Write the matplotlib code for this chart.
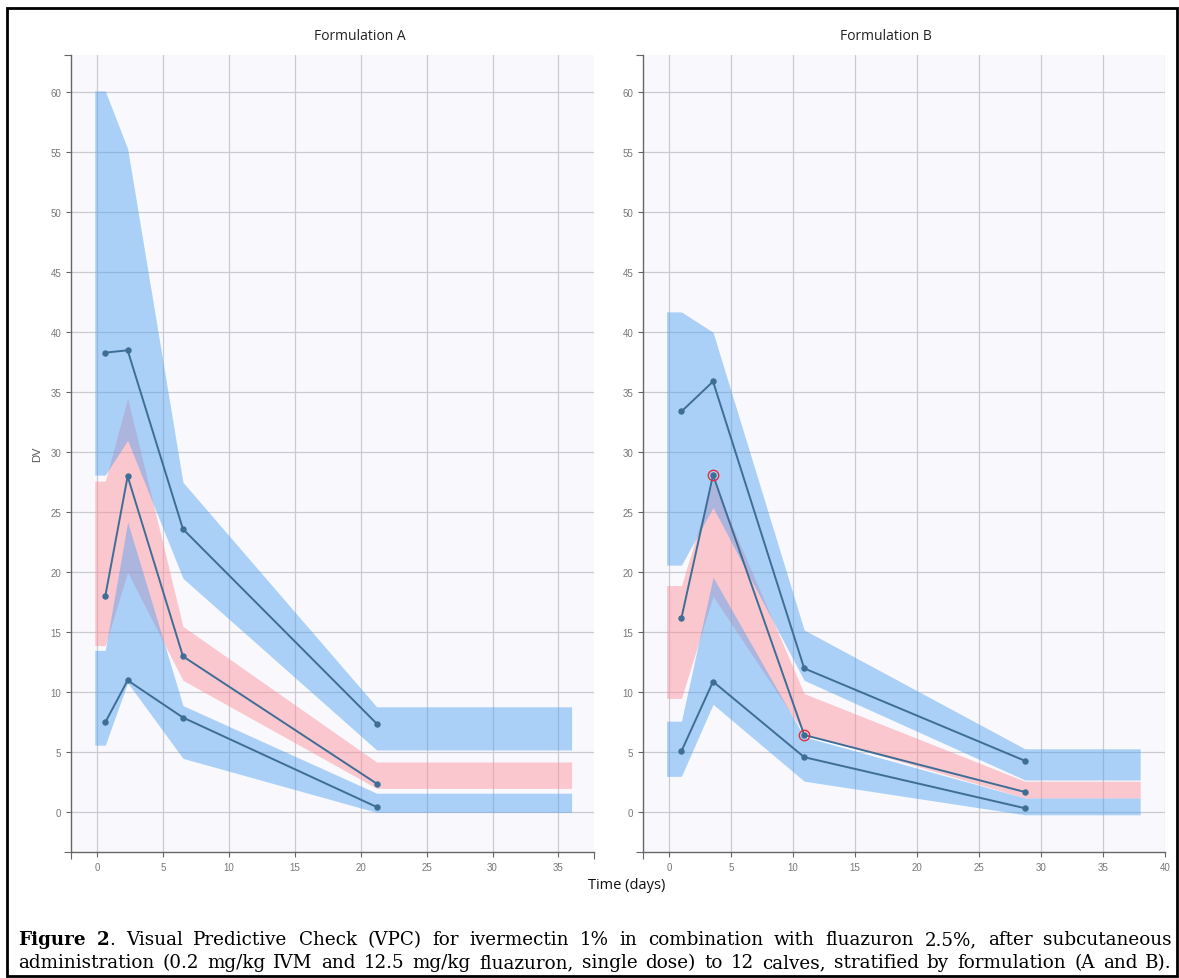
import matplotlib
matplotlib.use('Agg')
import matplotlib.pyplot as plt
from matplotlib.patches import Rectangle

plt.rcParams['font.family'] = ['Liberation Sans', 'DejaVu Sans']

# ---- data ----
# Formulation A
tA = [0.6, 2.3, 6.5, 21.2]
binA = (-0.2, 36.0)
obs_hi_A = [38.3, 38.5, 23.6, 7.4]
obs_med_A = [18.0, 28.0, 13.0, 2.4]
obs_lo_A = [7.5, 11.0, 7.9, 0.45]
hi_ci_A_up = [60.1, 55.3, 27.5, 8.8]
hi_ci_A_lo = [28.1, 31.0, 19.5, 5.2]
med_ci_A_up = [27.6, 34.5, 15.5, 4.2]
med_ci_A_lo = [13.9, 20.0, 11.0, 2.0]
lo_ci_A_up = [13.5, 24.2, 8.9, 1.6]
lo_ci_A_lo = [5.6, 10.8, 4.5, 0.0]

# Formulation B
tB = [1.0, 3.55, 10.9, 28.7]
binB = (-0.2, 38.0)
obs_hi_B = [33.4, 35.9, 12.0, 4.3]
obs_med_B = [16.2, 28.1, 6.45, 1.7]
obs_lo_B = [5.1, 10.9, 4.6, 0.35]
hi_ci_B_up = [41.7, 40.0, 15.2, 5.3]
hi_ci_B_lo = [20.6, 25.4, 11.0, 2.7]
med_ci_B_up = [18.9, 27.6, 9.9, 2.6]
med_ci_B_lo = [9.5, 18.0, 6.6, 1.2]
lo_ci_B_up = [7.6, 19.6, 6.3, 1.2]
lo_ci_B_lo = [3.0, 9.0, 2.6, -0.2]
# observed median points outside the CI (indices)
flag_B = [1, 2]

x_ticks_A = list(range(0, 40, 5))
x_ticks_B = list(range(0, 45, 5))
y_ticks = list(range(0, 65, 5))

caption_1 = 'Visual Predictive Check (VPC) for ivermectin 1% in combination with fluazuron 2.5%, after subcutaneous'
caption_2 = 'administration (0.2 mg/kg IVM and 12.5 mg/kg fluazuron, single dose) to 12 calves, stratified by formulation (A and B).'

BLUE = '#4da0f0'
PINK = '#ff8a95'
LINE = '#3e6d96'
GRID = '#cacad3'
AXC = '#666666'


def band_xy(t, vals, edges):
    x = [edges[0]] + list(t) + [edges[1]]
    y = [vals[0]] + list(vals) + [vals[-1]]
    return x, y


def draw_panel(ax, t, edges, obs, cis, xlim, xticks, flags=()):
    ax.set_facecolor('#f9f9fd')
    ax.set_xlim(*xlim)
    ax.set_ylim(-3.3, 63.1)
    ax.set_xticks(xticks)
    ax.set_yticks(y_ticks)
    ax.set_xticks(list(xlim), minor=True)
    ax.set_yticks([-3.3, 63.1], minor=True)
    ax.grid(True, which='major', color=GRID, linewidth=0.9)
    ax.set_axisbelow(True)
    for s in ['top', 'right']:
        ax.spines[s].set_visible(False)
    for s in ['left', 'bottom']:
        ax.spines[s].set_color(AXC)
        ax.spines[s].set_linewidth(1.0)
    ax.tick_params(which='both', colors=AXC, labelsize=7, length=3.5, width=0.8, labelcolor='#777777')
    ax.tick_params(which='minor', length=5)

    # median CI first, then the outer percentile CIs
    med_up, med_lo = cis[1]
    x, y1 = band_xy(t, med_up, edges)
    _, y2 = band_xy(t, med_lo, edges)
    ax.fill_between(x, y2, y1, color=PINK, alpha=0.45, linewidth=0, zorder=2)
    for up, lo in (cis[0], cis[2]):
        x, y1 = band_xy(t, up, edges)
        _, y2 = band_xy(t, lo, edges)
        ax.fill_between(x, y2, y1, color=BLUE, alpha=0.45, linewidth=0, zorder=3)

    for series in obs:
        ax.plot(t, series, color=LINE, linewidth=1.4, marker='o', markersize=3.6, zorder=5)
    for i in flags:
        ax.plot(t[i], obs[1][i], marker='o', markersize=7.5, markerfacecolor='none',
                markeredgecolor='#e0303f', markeredgewidth=1.0, zorder=6)


def justified_line(fig, words, x0, x1, y, font):
    # words: list of lists of (text, weight) pieces; spread words from x0 to x1 (pixels)
    r = fig.canvas.get_renderer()
    pieces = []
    widths = []
    for w in words:
        ww = 0
        arts = []
        for txt, weight in w:
            a = fig.text(0, 0, txt, ha='left', va='baseline', fontweight=weight, **font)
            e = a.get_window_extent(renderer=r)
            arts.append((a, e.width))
            ww += e.width
        pieces.append(arts)
        widths.append(ww)
    gap = (x1 - x0 - sum(widths)) / max(len(words) - 1, 1)
    x = x0
    for arts, ww in zip(pieces, widths):
        xx = x
        for a, wd in arts:
            a.set_position((xx / W, y))
            xx += wd
        x += ww + gap


fig = plt.figure(figsize=(11.79, 9.79), dpi=100)
W, H = 1179, 979

axA = fig.add_axes([71 / W, 1 - 853 / H, 523 / W, 797 / H])
axB = fig.add_axes([643 / W, 1 - 853 / H, 522 / W, 797 / H])

draw_panel(axA, tA, binA, [obs_hi_A, obs_med_A, obs_lo_A],
           [(hi_ci_A_up, hi_ci_A_lo), (med_ci_A_up, med_ci_A_lo), (lo_ci_A_up, lo_ci_A_lo)],
           (-2.0, 37.7), x_ticks_A)
draw_panel(axB, tB, binB, [obs_hi_B, obs_med_B, obs_lo_B],
           [(hi_ci_B_up, hi_ci_B_lo), (med_ci_B_up, med_ci_B_lo), (lo_ci_B_up, lo_ci_B_lo)],
           (-2.1, 40.0), x_ticks_B, flags=flag_B)

axA.set_ylabel('DV', fontsize=8, color='#555555', labelpad=6)

fig.text(360 / W, 1 - 37 / H, 'Formulation A', ha='center', va='center',
         fontsize=10, family='Open Sans', color='#222222')
fig.text(886 / W, 1 - 37 / H, 'Formulation B', ha='center', va='center',
         fontsize=10, family='Open Sans', color='#222222')
fig.text(627 / W, 1 - 886 / H, 'Time (days)', ha='center', va='center',
         fontsize=10.5, family='Open Sans', color='#111111')

cap_font = dict(family='DejaVu Serif', fontsize=13.2, color='black')
fig.canvas.draw()
words1 = [[('Figure', 'bold')], [('2', 'bold'), ('.', 'normal')]] + \
         [[(w, 'normal')] for w in caption_1.split()]
words2 = [[(w, 'normal')] for w in caption_2.split()]
justified_line(fig, words1, 18, 1172, 1 - 945 / H, cap_font)
justified_line(fig, words2, 18, 1172, 1 - 968 / H, cap_font)

fig.patches.append(Rectangle((7 / W, 2 / H), 1170 / W, 968 / H, transform=fig.transFigure,
                             fill=False, edgecolor='black', linewidth=2.0))

fig.savefig('out.png', dpi=100)
